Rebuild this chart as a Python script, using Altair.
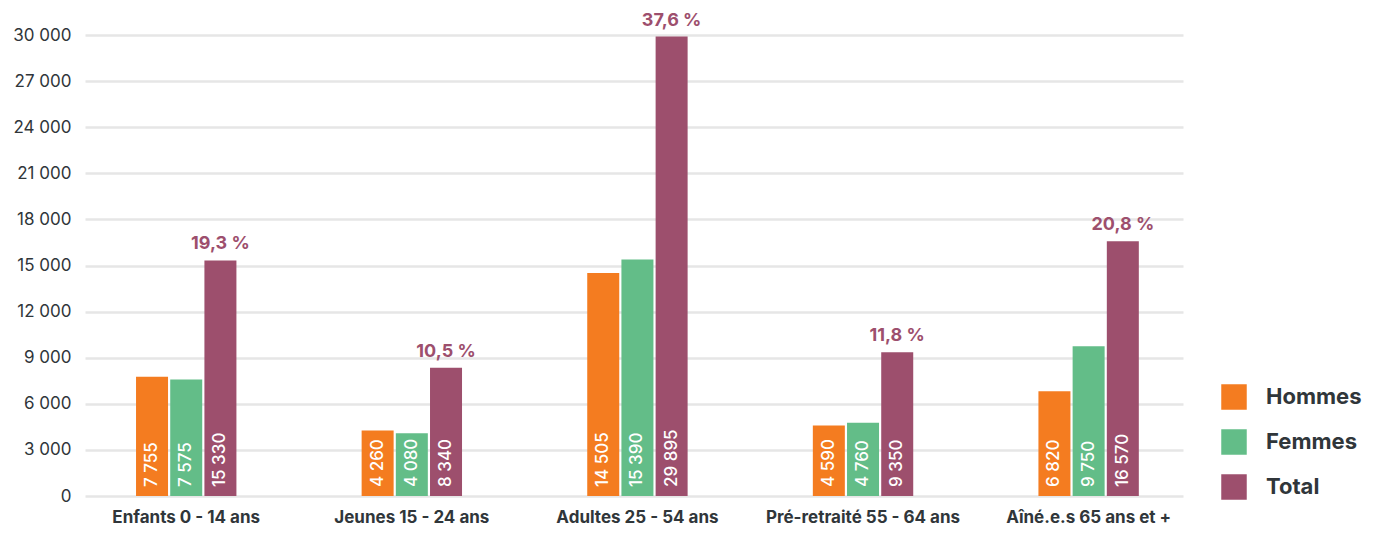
import altair as alt
import pandas as pd

categories = ["Enfants 0 - 14 ans", "Jeunes 15 - 24 ans", "Adultes 25 - 54 ans",
              "Pré-retraité 55 - 64 ans", "Aîné.e.s 65 ans et +"]
series = ["Hommes", "Femmes", "Total"]
hommes = [7755, 4260, 14505, 4590, 6820]
femmes = [7575, 4080, 15390, 4760, 9750]
total = [15330, 8340, 29895, 9350, 16570]
pourcentages = [19.3, 10.5, 37.6, 11.8, 20.8]
y_ticks = [0, 3000, 6000, 9000, 12000, 15000, 18000, 21000, 24000, 27000, 30000]
colors = ["#f47c20", "#63bd88", "#9d4f6d"]

rows = []
for i, c in enumerate(categories):
    for s, vals in zip(series, [hommes, femmes, total]):
        rows.append({"cat": c, "serie": s, "valeur": vals[i], "pct": pourcentages[i]})
df = pd.DataFrame(rows)

FONT = "Inter"
TXT = "#30363a"

base = alt.Chart(df).transform_calculate(
    label="replace(format(datum.valeur, ','), ',', ' ')",
    pct_label="replace(format(datum.pct, '.1f'), '.', ',') + ' %'",
).encode(
    x=alt.X("cat:N", sort=categories,
            scale=alt.Scale(paddingInner=0.555, paddingOuter=0.211, align=0.536),
            axis=alt.Axis(title=None, labelAngle=0, labelFontSize=17, labelFontWeight="bold",
                          labelColor=TXT, labelFont=FONT, labelPadding=13, labelLimit=400,
                          ticks=False, tickSize=0, domain=False, grid=False)),
    xOffset=alt.XOffset("serie:N", sort=series,
                        scale=alt.Scale(domain=series, paddingInner=0.064, paddingOuter=0)),
)

bars = base.mark_bar().encode(
    y=alt.Y("valeur:Q", scale=alt.Scale(domain=[0, 30000], nice=False),
            axis=alt.Axis(title=None, values=y_ticks,
                          labelExpr="replace(format(datum.value, ','), ',', ' ')",
                          labelFontSize=17, labelColor=TXT, labelFont=FONT, labelPadding=14,
                          ticks=False, domain=False, gridColor="#e6e6e6", gridWidth=2.5)),
    color=alt.Color("serie:N", sort=series, scale=alt.Scale(domain=series, range=colors),
                    legend=alt.Legend(title=None, orient="none", legendX=1136, legendY=349,
                                      symbolType="square", symbolSize=650, symbolStrokeWidth=0,
                                      symbolOpacity=1,
                                      labelFontSize=22, labelFontWeight="bold", labelColor=TXT,
                                      labelFont=FONT, labelOffset=19, rowPadding=19, padding=0)),
)

values_txt = base.mark_text(angle=270, align="left", baseline="middle", dx=9,
                            color="white", fontSize=17, font=FONT, fontWeight=500).encode(
    y=alt.datum(0),
    text="label:N",
)

pct_txt = base.transform_filter("datum.serie == 'Total'").mark_text(
    baseline="alphabetic", dy=-11, fontSize=18, fontWeight="bold", font=FONT, color="#9d4f6d"
).encode(
    y="valeur:Q",
    text="pct_label:N",
)

chart = alt.layer(bars, values_txt, pct_txt).properties(
    width=1098, height=461,
    autosize=alt.AutoSizeParams(type="none"),
    padding={"left": 77, "top": 27, "right": 181, "bottom": 34},
).configure_view(stroke=None)

chart.save("out.html", embed_options={"renderer": "svg", "actions": False})
